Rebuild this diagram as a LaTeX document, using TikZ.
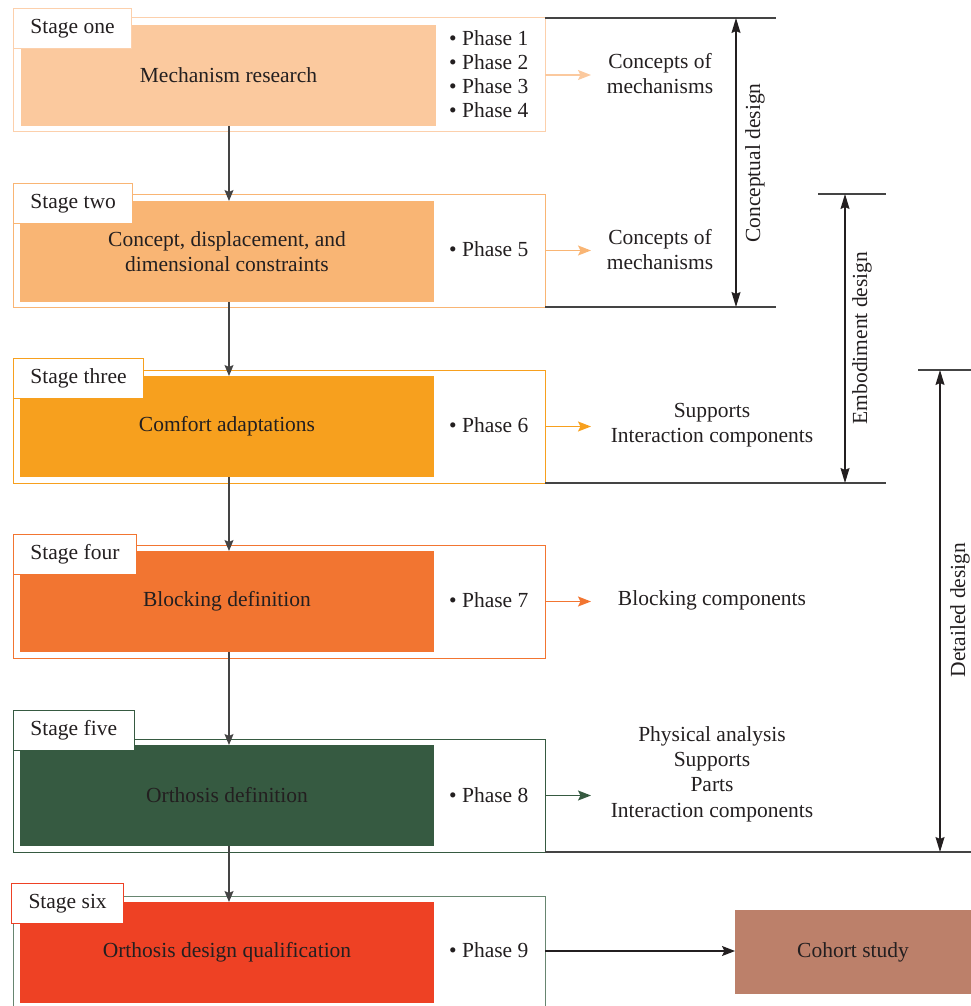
\documentclass[tikz,border=0pt]{standalone}
\usepackage{fontspec}
\setmainfont{Liberation Serif}
\usetikzlibrary{arrows.meta}
\definecolor{txt}{HTML}{231F20}
\definecolor{cA}{HTML}{FBC99E}
\definecolor{cAb}{HTML}{FCD0AC}
\definecolor{cB}{HTML}{F9B574}
\definecolor{cC}{HTML}{F7A01E}
\definecolor{cD}{HTML}{F27531}
\definecolor{cE}{HTML}{365A41}
\definecolor{cF}{HTML}{EE4124}
\definecolor{cFb}{HTML}{678570}
\definecolor{coh}{HTML}{BC806A}
\definecolor{ln}{HTML}{444444}
\begin{document}
\begin{tikzpicture}[x=1pt,y=-1pt,
  font=\fontsize{21.5}{25}\selectfont, text=txt,
  frame/.style={draw, line width=1pt, minimum width=532pt, minimum height=114pt, anchor=north west, inner sep=0pt, outer sep=0pt},
  fillbox/.style={draw=none, minimum width=414pt, minimum height=101pt, anchor=north west, align=center, inner sep=0pt, outer sep=0pt},
  stagelabel/.style={draw, fill=white, line width=1pt, minimum height=40pt, inner xsep=17pt, anchor=north west},
  phase/.style={anchor=west, align=left, inner sep=0pt},
  outtext/.style={align=center, inner sep=0pt},
  flow/.style={draw=ln, line width=1.2pt, -{Stealth[length=11pt,width=9pt,inset=2pt]}},
  side/.style={line width=1.3pt, -{Stealth[length=13pt,width=10pt,inset=2.5pt]}},
  rule/.style={draw=ln, line width=1.2pt},
  dim/.style={draw=txt, line width=1.2pt, {Stealth[length=15pt,width=9pt,inset=2pt]}-{Stealth[length=15pt,width=9pt,inset=2pt]}},
  dimlabel/.style={rotate=90, inner sep=0pt}]
\useasboundingbox (0,0) rectangle (971,1006);

% frames
\node[frame, draw=cAb] (o1) at (13,18) {};
\node[frame, draw=cB, minimum height=113pt] (o2) at (13,194) {};
\node[frame, draw=cC, minimum height=113pt] (o3) at (13,370) {};
\node[frame, draw=cD, minimum height=113pt] (o4) at (13,545) {};
\node[frame, draw=cE, minimum height=113pt] (o5) at (13,739) {};
\draw[draw=cFb, line width=1pt] (13,1006) |- (545,896) -- (545,1006);
\coordinate (o6e) at (545,951);

% filled boxes
\node[fillbox, fill=cA, minimum width=415pt] (f1) at (21,25) {Mechanism research};
\node[fillbox, fill=cB] (f2) at (20,201) {Concept, displacement, and\\dimensional constraints};
\node[fillbox, fill=cC] (f3) at (20,376) {Comfort adaptations};
\node[fillbox, fill=cD] (f4) at (20,551) {Blocking definition};
\node[fillbox, fill=cE] (f5) at (20,745) {Orthosis definition};
\node[fillbox, fill=cF] (f6) at (20,902) {Orthosis design qualification};

% stage labels
\node[stagelabel, draw=cAb] (s1) at (13,8) {Stage one};
\node[stagelabel, draw=cB] (s2) at (13,183) {Stage two};
\node[stagelabel, draw=cC] (s3) at (13,358) {Stage three};
\node[stagelabel, draw=cD] (s4) at (13,534) {Stage four};
\node[stagelabel, draw=cE] (s5) at (13,710) {Stage five};
\node[stagelabel, draw=cF] (s6) at (11,883) {Stage six};

% phases
\node[phase, font=\fontsize{21.5}{24}\selectfont] (p1) at (449,74) {\textbullet\ Phase 1\\\textbullet\ Phase 2\\\textbullet\ Phase 3\\\textbullet\ Phase 4};
\node[phase] (p2) at (449,249) {\textbullet\ Phase 5};
\node[phase] (p3) at (449,425) {\textbullet\ Phase 6};
\node[phase] (p4) at (449,600) {\textbullet\ Phase 7};
\node[phase] (p5) at (449,795) {\textbullet\ Phase 8};
\node[phase] (p6) at (449,950) {\textbullet\ Phase 9};

% vertical flow
\coordinate (vx) at (229,0);
\draw[flow] (f1.south -| vx) -- (f2.north -| vx);
\draw[flow] (f2.south -| vx) -- (f3.north -| vx);
\draw[flow] (f3.south -| vx) -- (f4.north -| vx);
\draw[flow] (f4.south -| vx) -- (f5.north -| vx);
\draw[flow] (f5.south -| vx) -- (f6.north -| vx);

% outputs
\node[outtext] (t1) at (660,74) {Concepts of\\mechanisms};
\node[outtext] (t2) at (660,250) {Concepts of\\mechanisms};
\node[outtext] (t3) at (712,425) {Supports\\Interaction components};
\node[outtext] (t4) at (712,600) {Blocking components};
\node[outtext, font=\fontsize{21.5}{25.3}\selectfont] (t5) at (712,774) {Physical analysis\\Supports\\Parts\\Interaction components};
\node[fill=coh, minimum width=236pt, minimum height=84pt, anchor=north west, inner sep=0pt, outer sep=0pt] (c6) at (735,910) {Cohort study};

\coordinate (ax) at (591,0);
\draw[side, draw=cA, color=cA] (o1.east) -- (o1.east -| ax);
\draw[side, draw=cB, color=cB] (o2.east) -- (o2.east -| ax);
\draw[side, draw=cC, color=cC] (o3.east) -- (o3.east -| ax);
\draw[side, draw=cD, color=cD] (o4.east) -- (o4.east -| ax);
\draw[side, draw=cE, color=cE] (o5.east) -- (o5.east -| ax);
\draw[side, draw=ln, color=txt] (o6e) -- (o6e -| c6.west);

% dimension rules
\coordinate (r1) at (776,0);
\coordinate (r3) at (886,0);
\coordinate (r4) at (971,0);
\draw[rule] (o1.north east) -- (o1.north east -| r1);
\draw[rule] (o2.south east) -- (o2.south east -| r1);
\draw[rule] (o3.south east) -- (o3.south east -| r3);
\draw[rule] (o5.south east) -- (o5.south east -| r4);
\coordinate (e1) at (818,194);
\coordinate (e2) at (886,194);
\draw[rule] (e1) -- (e2);
\coordinate (d1) at (918,370);
\coordinate (d2) at (971,370);
\draw[rule] (d1) -- (d2);

\coordinate (ct) at (736,18);
\coordinate (cb) at (736,307);
\draw[dim] (ct) -- (cb);
\node[dimlabel] (lc) at (755,163) {Conceptual design};
\coordinate (et) at (845,194);
\coordinate (eb) at (845,483);
\draw[dim] (et) -- (eb);
\node[dimlabel] (le) at (862,338) {Embodiment design};
\coordinate (dt) at (940,370);
\coordinate (db) at (940,852);
\draw[dim] (dt) -- (db);
\node[dimlabel] (ld) at (960,610) {Detailed design};
\end{tikzpicture}
\end{document}
